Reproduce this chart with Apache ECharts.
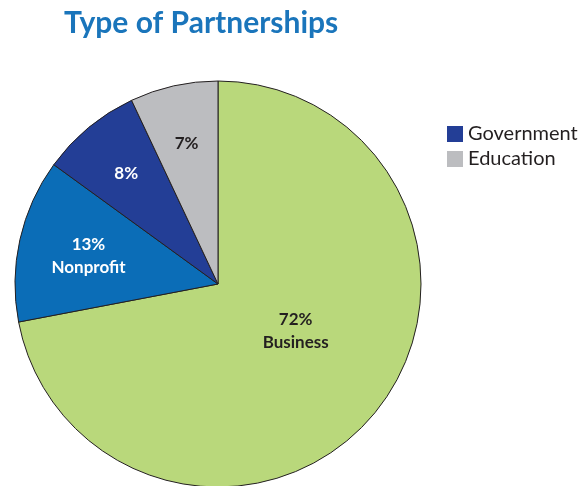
<!DOCTYPE html>
<html>
<head>
<meta charset="utf-8">
<script src="https://cdn.jsdelivr.net/npm/echarts@6/dist/echarts.min.js"></script>
<style>
  html, body { margin: 0; padding: 0; background: #fff; }
  #chart { width: 588px; height: 486px; }
</style>
</head>
<body>
<div id="chart"></div>
<script>
// data
var categories = ["Business", "Nonprofit", "Government", "Education"];
var shares = [72, 13, 8, 7];
var colors = ["#b9d87b", "#0b6db7", "#233e96", "#bcbdc0"];
var labelColors = ["#231f20", "#ffffff", "#ffffff", "#231f20"];
var legendItems = ["Government", "Education"];

var chart = echarts.init(document.getElementById("chart"));

var CENTER = [218, 284];

var labelFmt = function (p) {
  if (p.name === "Business" || p.name === "Nonprofit") {
    return p.value + "%\n" + p.name;
  }
  return p.value + "%";
};

// transparent pie just to place labels (label sits at half the radius)
function labelSeries(radius, show, layout) {
  return {
    type: "pie",
    center: CENTER,
    radius: radius,
    startAngle: 90,
    clockwise: true,
    silent: true,
    z: 3,
    label: {
      position: "inside",
      formatter: labelFmt,
      fontFamily: "Lato",
      fontWeight: "bold",
      fontSize: 17,
      lineHeight: 23
    },
    labelLine: { show: false },
    labelLayout: layout,
    data: categories.map(function (name, i) {
      return {
        name: name,
        value: shares[i],
        itemStyle: { color: "rgba(0,0,0,0)" },
        label: { show: show(i), color: labelColors[i] }
      };
    })
  };
}

var option = {
  animation: false,
  title: {
    text: "Type of Partnerships",
    left: 59,
    top: 3,
    textStyle: {
      fontFamily: "Lato",
      fontSize: 30,
      fontWeight: "bold",
      color: "#1a75bb"
    }
  },
  legend: {
    data: legendItems,
    orient: "vertical",
    left: 442,
    top: 119,
    itemWidth: 16,
    itemHeight: 16,
    itemGap: 5,
    icon: "rect",
    itemStyle: { borderWidth: 0 },
    textStyle: {
      fontFamily: "Lato",
      fontSize: 20,
      color: "#231f20"
    }
  },
  series: [
    {
      name: "Partnerships",
      type: "pie",
      center: CENTER,
      radius: 203,
      startAngle: 90,
      clockwise: true,
      silent: true,
      itemStyle: { borderColor: "#231f20", borderWidth: 1 },
      label: { show: false },
      labelLine: { show: false },
      data: categories.map(function (name, i) {
        return { name: name, value: shares[i], itemStyle: { color: colors[i] } };
      })
    },
    labelSeries(180, function (i) { return i === 0; }, { dx: 6, dy: -12 }),
    labelSeries(282, function (i) { return i !== 0; }, function (p) {
      return p.dataIndex === 1 ? { dx: 11, dy: 3 } : {};
    })
  ]
};

chart.setOption(option);
</script>
</body>
</html>
